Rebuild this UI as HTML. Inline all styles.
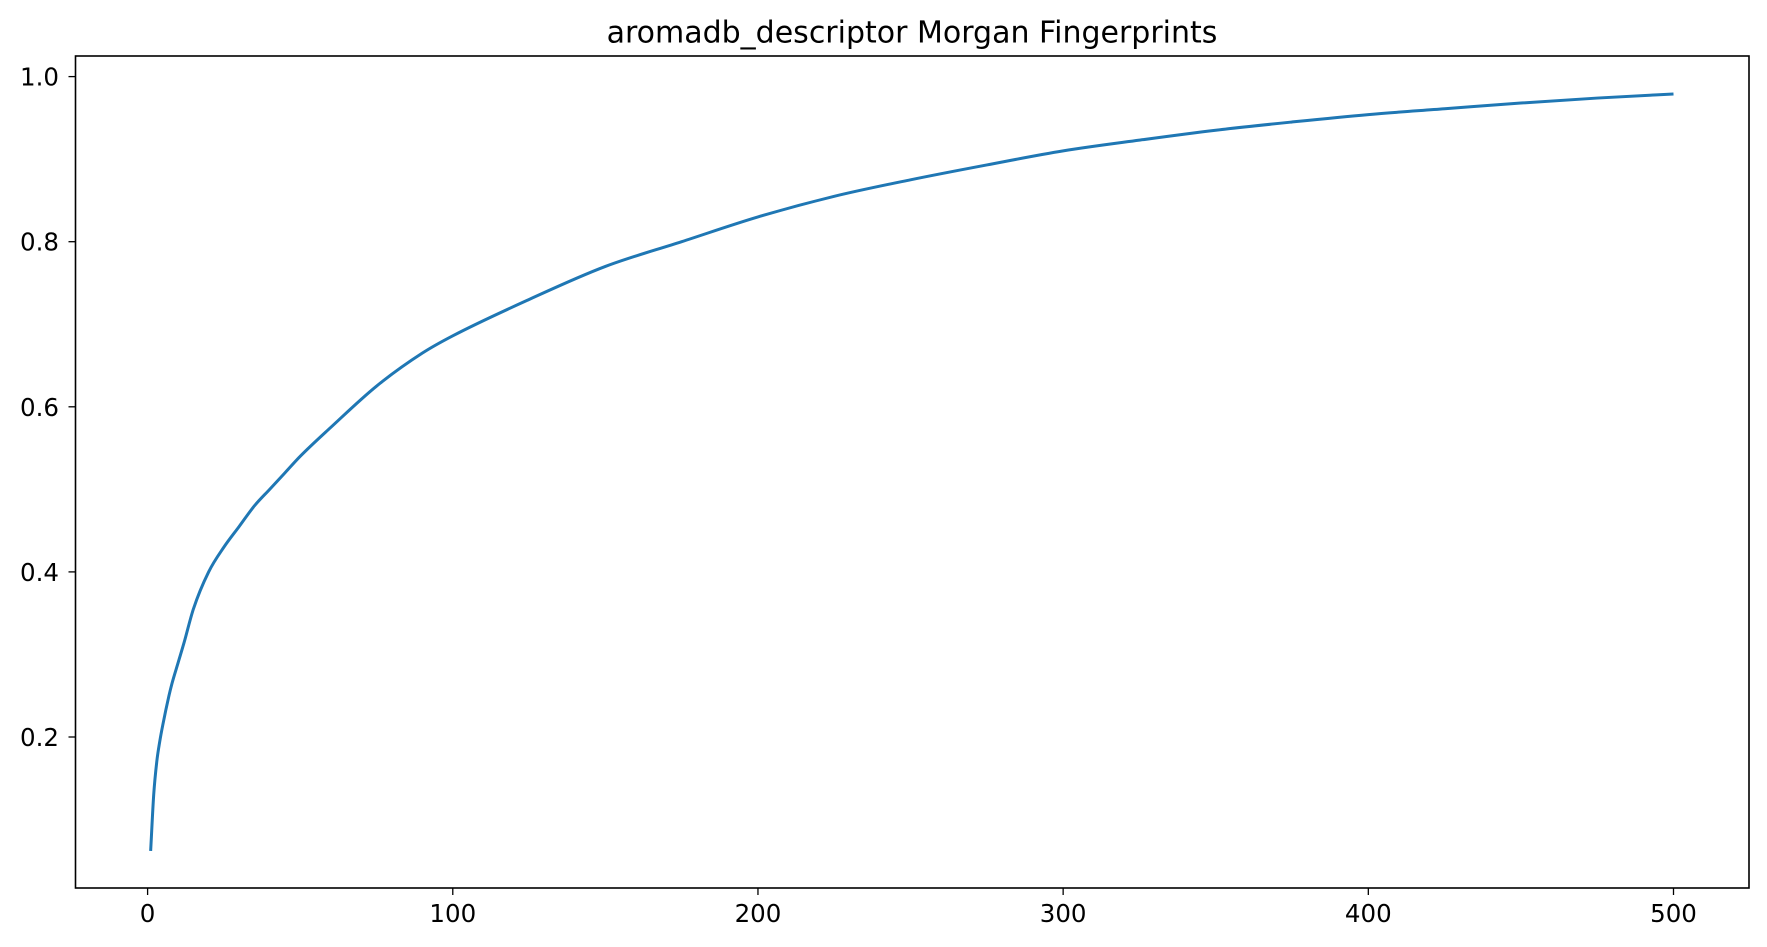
<!DOCTYPE html>
<html><head><meta charset="utf-8"><style>
html,body{margin:0;padding:0;background:#fff;}
svg{display:block;font-family:"DejaVu Sans","Liberation Sans",sans-serif;}
</style></head><body>
<svg id="chart" width="1767" height="947" viewBox="0 0 1767 947" xmlns="http://www.w3.org/2000/svg">
<rect width="1767" height="947" fill="#fff"/>
<text x="912" y="42.5" font-size="30" text-anchor="middle" fill="#000">aromadb_descriptor Morgan Fingerprints</text>
<g id="xticks"></g>
<g id="yticks"></g>
<path id="series" fill="none" stroke="#1f77b4" stroke-width="3" stroke-linejoin="round"/>
<rect x="75.5" y="56" width="1673.5" height="832" fill="none" stroke="#000" stroke-width="1.6"/>
</svg>
<script>
const xValues = [1,2,3,4,5,7,8,10,12,15,20,25,30,35,40,45,50,60,75,90,100,125,150,175,200,225,250,275,300,325,350,375,400,425,450,475,500];
const yValues = [0.062,0.13,0.17,0.195,0.215,0.25,0.265,0.29,0.315,0.355,0.40,0.43,0.455,0.48,0.50,0.52,0.54,0.575,0.625,0.665,0.686,0.73,0.77,0.80,0.83,0.855,0.875,0.893,0.91,0.923,0.935,0.945,0.954,0.961,0.968,0.974,0.979];
const xTickLabels = [0,100,200,300,400,500];
const yTickLabels = [0.2,0.4,0.6,0.8,1.0];

const NS = "http://www.w3.org/2000/svg";
function xs(v){ return 147.6 + v * 3.0518; }
function ys(v){ return 76.6 + (1 - v) * 825.5; }

// monotone cubic (Fritsch-Carlson) path
(function(){
  const P = xValues.map((x,i)=>[xs(x), ys(yValues[i])]);
  const n = P.length, d = [], m = [];
  for(let i=0;i<n-1;i++) d.push((P[i+1][1]-P[i][1])/(P[i+1][0]-P[i][0]));
  m[0]=d[0]; m[n-1]=d[n-2];
  for(let i=1;i<n-1;i++){ m[i] = (d[i-1]*d[i]<=0)?0:(d[i-1]+d[i])/2; }
  for(let i=0;i<n-1;i++){
    if(d[i]===0){m[i]=0;m[i+1]=0;continue;}
    const a=m[i]/d[i], b=m[i+1]/d[i], s=a*a+b*b;
    if(s>9){const t=3/Math.sqrt(s); m[i]=t*a*d[i]; m[i+1]=t*b*d[i];}
  }
  let s = "M"+P[0][0].toFixed(2)+","+P[0][1].toFixed(2);
  for(let i=0;i<n-1;i++){
    const h=(P[i+1][0]-P[i][0])/3;
    s += " C"+(P[i][0]+h).toFixed(2)+","+(P[i][1]+m[i]*h).toFixed(2)+" "+(P[i+1][0]-h).toFixed(2)+","+(P[i+1][1]-m[i+1]*h).toFixed(2)+" "+P[i+1][0].toFixed(2)+","+P[i+1][1].toFixed(2);
  }
  document.getElementById("series").setAttribute("d", s);
})();

const xg = document.getElementById("xticks");
xTickLabels.forEach(v=>{
  const l = document.createElementNS(NS,"line");
  l.setAttribute("x1", xs(v)); l.setAttribute("x2", xs(v));
  l.setAttribute("y1", 888); l.setAttribute("y2", 895);
  l.setAttribute("stroke","#000"); l.setAttribute("stroke-width","1.3");
  
  
  xg.appendChild(l);
  const t = document.createElementNS(NS,"text");
  t.setAttribute("x", xs(v)); t.setAttribute("y", 922);
  t.setAttribute("font-size","24.5"); t.setAttribute("text-anchor","middle");
  t.textContent = String(v);
  
  
  xg.appendChild(t);
});
const yg = document.getElementById("yticks");
yTickLabels.forEach(v=>{
  const l = document.createElementNS(NS,"line");
  l.setAttribute("x1", 68.5); l.setAttribute("x2", 75.5);
  l.setAttribute("y1", ys(v)); l.setAttribute("y2", ys(v));
  l.setAttribute("stroke","#000"); l.setAttribute("stroke-width","1.3");
  
  
  yg.appendChild(l);
  const t = document.createElementNS(NS,"text");
  t.setAttribute("x", 59); t.setAttribute("y", ys(v)+9);
  t.setAttribute("font-size","24.5"); t.setAttribute("text-anchor","end");
  t.textContent = v.toFixed(1);
  
  
  yg.appendChild(t);
});
</script>
</body></html>
